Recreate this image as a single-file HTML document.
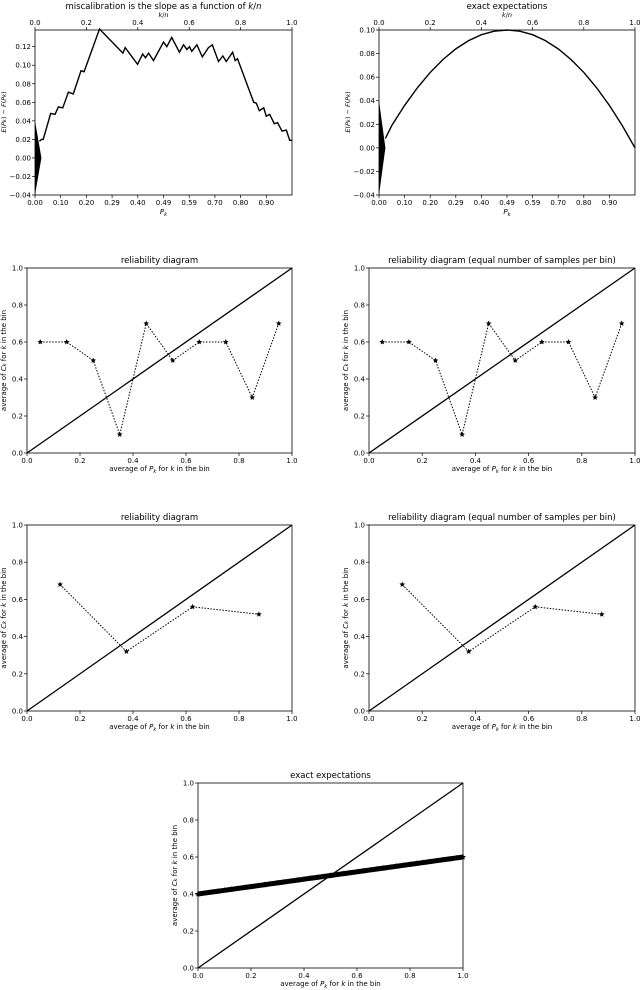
<!DOCTYPE html>
<html><head><meta charset="utf-8"><style>
body{margin:0;background:#fff}
svg{display:block;font-family:"DejaVu Sans","Liberation Sans",sans-serif}
text{fill:#000}
</style></head><body>
<svg id="fig" width="640" height="990" viewBox="0 0 640 990" xmlns="http://www.w3.org/2000/svg"></svg>
<script>
// ---------- data ----------
const miscalX = [0.017,0.026,0.032,0.061,0.078,0.091,0.108,0.130,0.149,0.179,0.191,0.251,0.342,0.351,0.399,0.419,0.430,0.442,0.461,0.500,0.513,0.532,0.562,0.578,0.591,0.601,0.610,0.630,0.651,0.675,0.690,0.714,0.731,0.744,0.769,0.779,0.788,0.851,0.861,0.873,0.890,0.900,0.913,0.931,0.944,0.961,0.978,0.991,1.0];
const miscalY = [0.018,0.020,0.020,0.048,0.047,0.055,0.054,0.071,0.069,0.094,0.093,0.139,0.113,0.119,0.101,0.112,0.108,0.113,0.105,0.125,0.120,0.130,0.114,0.122,0.117,0.120,0.115,0.122,0.109,0.119,0.122,0.104,0.110,0.104,0.114,0.105,0.107,0.060,0.059,0.051,0.054,0.045,0.047,0.037,0.038,0.029,0.030,0.019,0.019];
const spikeX = [0, 0.025, 0];
const spikeY = [0.04, 0, -0.04];
const exactX = [0.025,0.05,0.1,0.15,0.2,0.25,0.3,0.35,0.4,0.45,0.5,0.55,0.6,0.65,0.7,0.75,0.8,0.85,0.9,0.95,1.0];
const exactY = [0.008,0.019,0.036,0.051,0.064,0.075,0.084,0.091,0.096,0.099,0.100,0.099,0.096,0.091,0.084,0.075,0.064,0.051,0.036,0.019,0.0];
const botTickVals = [0,0.1,0.2,0.3,0.4,0.5,0.6,0.7,0.8,0.9];
const botTickLabels = ["0.00","0.10","0.20","0.29","0.40","0.49","0.59","0.70","0.80","0.90"];
const topTicks = [0,0.2,0.4,0.6,0.8,1.0];
const miscalYTicks = [-0.04,-0.02,0,0.02,0.04,0.06,0.08,0.10,0.12];
const exactYTicks = [-0.04,-0.02,0,0.02,0.04,0.06,0.08,0.10];
const rel10X = [0.05,0.15,0.25,0.35,0.45,0.55,0.65,0.75,0.85,0.95];
const rel10Y = [0.6,0.6,0.5,0.1,0.7,0.5,0.6,0.6,0.3,0.7];
const rel4X = [0.125,0.375,0.625,0.875];
const rel4Y = [0.68,0.32,0.56,0.52];
const expX = [0,0.025,0.05,0.075,0.1,0.125,0.15,0.175,0.2,0.225,0.25,0.275,0.3,0.325,0.35,0.375,0.4,0.425,0.45,0.475,0.5,0.525,0.55,0.575,0.6,0.625,0.65,0.675,0.7,0.725,0.75,0.775,0.8,0.825,0.85,0.875,0.9,0.925,0.95,0.975,1.0];
const expY = [0.4,0.405,0.41,0.415,0.42,0.425,0.43,0.435,0.44,0.445,0.45,0.455,0.46,0.465,0.47,0.475,0.48,0.485,0.49,0.495,0.5,0.505,0.51,0.515,0.52,0.525,0.53,0.535,0.54,0.545,0.55,0.555,0.56,0.565,0.57,0.575,0.58,0.585,0.59,0.595,0.6];
const relTicks = [0,0.2,0.4,0.6,0.8,1.0];
const relTickLabels = ["0.0","0.2","0.4","0.6","0.8","1.0"];

// ---------- drawing ----------
const NS="http://www.w3.org/2000/svg";
const fig=document.getElementById('fig');
function el(tag,attrs,parent){const e=document.createElementNS(NS,tag);for(const k in attrs)e.setAttribute(k,attrs[k]);(parent||fig).appendChild(e);return e;}
function txt(s,x,y,size,anchor,parent,rot){const t=el('text',{x:x,y:y,'font-size':size,'text-anchor':anchor||'middle'},parent);if(rot)t.setAttribute('transform','rotate(-90 '+x+' '+y+')');t.innerHTML=s;return t;}
function axes(name,x0,x1,y0,y1,xmin,xmax,ymin,ymax){
  const g=el('g',{});
  
  
  const sx=v=>x0+(v-xmin)/(xmax-xmin)*(x1-x0);
  const sy=v=>y1-(v-ymin)/(ymax-ymin)*(y1-y0);
  return {g,sx,sy,x0,x1,y0,y1};
}
function frame(a){
  const r=el('rect',{x:a.x0,y:a.y0,width:a.x1-a.x0,height:a.y1-a.y0,fill:'none',stroke:'#000','stroke-width':0.8},a.g);
  
  
}
function xticks(a,vals,labels,top){
  vals.forEach((v,i)=>{const x=a.sx(v);
    if(top){el('line',{x1:x,x2:x,y1:a.y0,y2:a.y0-3,stroke:'#000','stroke-width':0.7},a.g);txt(labels[i],x,a.y0-5,7,'middle',a.g);}
    else{el('line',{x1:x,x2:x,y1:a.y1,y2:a.y1+3,stroke:'#000','stroke-width':0.7},a.g);txt(labels[i],x,a.y1+10,7,'middle',a.g);}
  });
}
function yticks(a,vals,labels){
  vals.forEach((v,i)=>{const y=a.sy(v);
    el('line',{x1:a.x0,x2:a.x0-3,y1:y,y2:y,stroke:'#000','stroke-width':0.7},a.g);
    txt(labels[i],a.x0-4,y+2.5,7,'end',a.g);});
}
function poly(a,xs,ys,attrs){
  const pts=xs.map((x,i)=>a.sx(x).toFixed(2)+','+a.sy(ys[i]).toFixed(2)).join(' ');
  return el('polyline',Object.assign({points:pts,fill:'none'},attrs),a.g);
}
function star(a,x,y,r){
  const cx=a.sx(x),cy=a.sy(y);let d='';
  for(let i=0;i<10;i++){const ang=-Math.PI/2+i*Math.PI/5;const rr=i%2?r*0.45:r;d+=(i?'L':'M')+(cx+rr*Math.cos(ang)).toFixed(2)+','+(cy+rr*Math.sin(ang)).toFixed(2);}
  const p=el('path',{d:d+'Z',fill:'#000'},a.g);
  
  
}
function fmt2(v){return v.toFixed(2).replace('-','\u2212');}

// chart 1 & 2: miscalibration
function miscalChart(name,title,x0,x1,yMax,yT,xs,ys,ylabX){
  const a=axes(name,x0,x1,30,195,0,1,-0.04,yMax);
  const sp=el('polygon',{points:spikeX.map((x,i)=>a.sx(x)+','+a.sy(spikeY[i])).join(' '),fill:'#000'},a.g);
  
  
  const l=poly(a,xs,ys,{stroke:'#000','stroke-width':1.4});
  
  
  frame(a);
  xticks(a,topTicks,topTicks.map(v=>v.toFixed(1)),true);
  xticks(a,botTickVals,botTickLabels,false);
  yticks(a,yT,yT.map(fmt2));
  const t=txt(title,(x0+x1)/2,9,8.5,'middle',a.g);
  txt('<tspan font-style="italic">k</tspan>/<tspan font-style="italic">n</tspan>',(x0+x1)/2,17,6.5,'middle',a.g);
  txt('<tspan font-style="italic">P</tspan><tspan font-size="5" dy="2" font-style="italic">k</tspan>',(x0+x1)/2,214,7,'middle',a.g);
  const yl=txt('<tspan font-style="italic">E</tspan>(<tspan font-style="italic">P</tspan><tspan font-size="5" font-style="italic">k</tspan>) \u2212 <tspan font-style="italic">F</tspan>(<tspan font-style="italic">P</tspan><tspan font-size="5" font-style="italic">k</tspan>)',ylabX,112,6.5,'middle',a.g,true);
  
}
miscalChart('miscalibration-chart','miscalibration is the slope as a function of <tspan font-style="italic">k</tspan>/<tspan font-style="italic">n</tspan>',35,292,0.138,miscalYTicks,miscalX,miscalY,6);
miscalChart('exact-expectations-top-chart','exact expectations',379,635,0.10,exactYTicks,exactX,exactY,350);

function relChart(name,title,x0,x1,y0,y1,xs,ys,ylabX,ox,oy,starR,lw,dash){
  const a=axes(name,x0,x1,y0,y1,0,1,0,1);
  const d=poly(a,[0,1],[0,1],{stroke:'#000','stroke-width':1.3});
  
  
  const l=poly(a,xs,ys,{stroke:'#000','stroke-width':lw,'stroke-dasharray':dash});
  
  
  xs.forEach((x,i)=>star(a,x,ys[i],starR));
  frame(a);
  xticks(a,relTicks,relTickLabels,false);
  yticks(a,relTicks,relTickLabels);
  const t=txt(title,(x0+x1)/2,y0-5,8.5,'middle',a.g);
  const xl=txt('average of <tspan font-style="italic">P</tspan><tspan font-size="5" dy="2" font-style="italic">k</tspan><tspan dy="-2"> for </tspan><tspan font-style="italic">k</tspan> in the bin',(x0+x1)/2,y1+18,7,'middle',a.g);
  
  const yl=txt('average of <tspan font-style="italic">C</tspan><tspan font-size="5" font-style="italic">k</tspan> for <tspan font-style="italic">k</tspan> in the bin',ylabX,(y0+y1)/2,7,'middle',a.g,true);
  
}
relChart('reliability-diagram-1','reliability diagram',27,292,268,453,rel10X,rel10Y,6,0,0,3,1,'1.5,1.5');
relChart('reliability-diagram-equal-1','reliability diagram (equal number of samples per bin)',369,635,268,453,rel10X,rel10Y,348,0,0,3,1,'1.5,1.5');
relChart('reliability-diagram-2','reliability diagram',27,292,525,711,rel4X,rel4Y,6,0,0,3,1,'1.5,1.5');
relChart('reliability-diagram-equal-2','reliability diagram (equal number of samples per bin)',369,635,525,711,rel4X,rel4Y,348,0,0,3,1,'1.5,1.5');
relChart('exact-expectations-bottom-chart','exact expectations',198,463,783,968,expX,expY,177,0,0,3.2,5,'none');
</script>
</body></html>
